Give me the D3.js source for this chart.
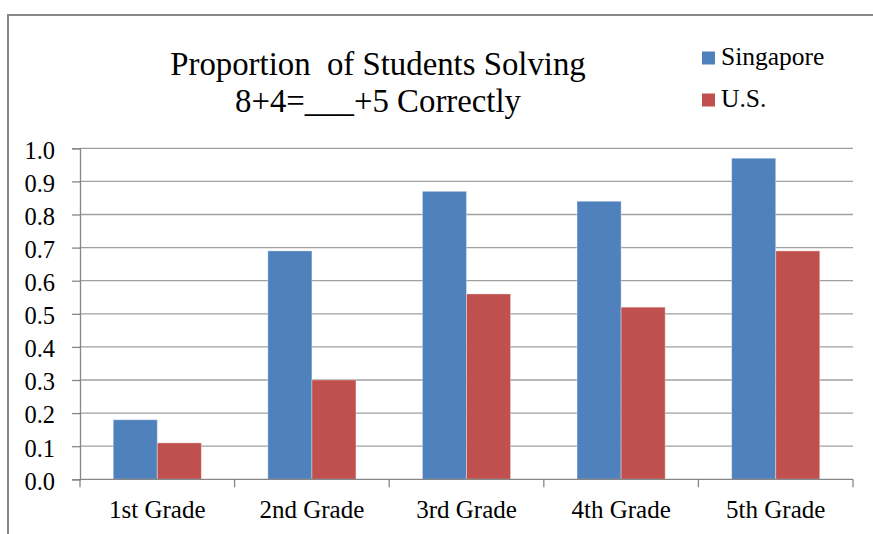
<!DOCTYPE html>
<html>
<head>
<meta charset="utf-8">
<script src="https://cdn.jsdelivr.net/npm/d3@7"></script>
<style>
  html, body { margin: 0; padding: 0; background: #fff; }
  svg { display: block; }
  text { font-family: "Liberation Serif", "Times New Roman", serif; fill: #000; white-space: pre; }
</style>
</head>
<body>
<svg id="chart" width="873" height="534"></svg>
<script>
// Grades on the horizontal axis
const categories = ["1st Grade", "2nd Grade", "3rd Grade", "4th Grade", "5th Grade"];
// Series names, as shown in the legend
const seriesNames = ["Singapore", "U.S."];
// Proportion of students answering correctly, per grade
const singapore = [0.18, 0.69, 0.87, 0.84, 0.97];
const us = [0.11, 0.30, 0.56, 0.52, 0.69];
// Value-axis ticks
const yTicks = [0, 0.1, 0.2, 0.3, 0.4, 0.5, 0.6, 0.7, 0.8, 0.9, 1.0];
// Title lines
const titleLines = ["Proportion  of Students Solving", "8+4=___+5 Correctly"];

const colors = { "Singapore": "#4F81BD", "U.S.": "#C0504D" };
const seriesValues = { "Singapore": singapore, "U.S.": us };

const svg = d3.select("#chart");

// Chart frame (extends past the visible window on the right and bottom)
svg.append("path")
  .attr("d", "M8,540 L8,15 L880,15")
  .attr("fill", "none")
  .attr("stroke", "#878787")
  .attr("stroke-width", 2);

const plot = { left: 80, right: 853, top: 148.3, bottom: 479.3 };

const y = d3.scaleLinear().domain([0, 1]).range([plot.bottom, plot.top]);
const x0 = d3.scaleBand().domain(categories).range([plot.left, plot.right]).padding(0);
const groupW = x0.bandwidth() * 0.57;
const x1 = d3.scaleBand().domain(seriesNames).range([0, groupW]).padding(0);

// Horizontal gridlines
svg.append("g")
  .selectAll("line")
  .data(yTicks.filter(d => d > 0))
  .join("line")
  .attr("x1", plot.left).attr("x2", plot.right)
  .attr("y1", d => y(d)).attr("y2", d => y(d))
  .attr("stroke", "#a0a0a0")
  .attr("stroke-width", 1.3);

// Bars
const rows = categories.map((c, i) => ({ c, i }));
const groups = svg.append("g")
  .selectAll("g")
  .data(rows)
  .join("g")
  .attr("transform", d => `translate(${x0(d.c) + (x0.bandwidth() - groupW) / 2},0)`);

groups.selectAll("rect")
  .data(d => seriesNames.map(s => ({ s, v: seriesValues[s][d.i] })))
  .join("rect")
  .attr("x", d => x1(d.s))
  .attr("width", x1.bandwidth())
  .attr("y", d => y(d.v))
  .attr("height", d => y(0) - y(d.v))
  .attr("fill", d => colors[d.s])
  .attr("stroke", "rgba(255,255,255,0.35)")
  .attr("stroke-width", 1);

// Value axis
const yAxis = d3.axisLeft(y)
  .tickValues(yTicks)
  .tickFormat(d3.format(".1f"))
  .tickSize(8)
  .tickPadding(17);
const gy = svg.append("g").attr("transform", `translate(${plot.left},0)`).call(yAxis);
gy.select(".domain").attr("stroke", "#868686").attr("stroke-width", 1.3);
gy.selectAll(".tick line").attr("stroke", "#868686").attr("stroke-width", 1.3);
gy.selectAll(".tick text")
  .style("font-size", "24.5px")
  .attr("dy", "0.4em")
  .attr("fill", "#000");

// Category axis
const xAxis = d3.axisBottom(x0).tickSize(0).tickPadding(0);
const gx = svg.append("g").attr("transform", `translate(0,${plot.bottom})`).call(xAxis);
gx.select(".domain").remove();
gx.append("line")
  .attr("x1", plot.left).attr("x2", plot.right)
  .attr("stroke", "#868686").attr("stroke-width", 1.3);
gx.selectAll(".boundary")
  .data(categories.concat([null]))
  .join("line")
  .attr("class", "boundary")
  .attr("x1", (d, i) => plot.left + i * x0.step())
  .attr("x2", (d, i) => plot.left + i * x0.step())
  .attr("y1", 0).attr("y2", 8)
  .attr("stroke", "#868686").attr("stroke-width", 1.3);
gx.selectAll(".tick text")
  .style("font-size", "25px")
  .attr("y", 38.5)
  .attr("dy", 0)
  .attr("fill", "#000");

// Title
svg.append("g")
  .selectAll("text")
  .data(titleLines)
  .join("text")
  .attr("x", 378)
  .attr("y", (d, i) => 75 + i * 37)
  .attr("text-anchor", "middle")
  .style("font-size", "32.8px")
  .text(d => d);

// Legend
const legend = svg.append("g")
  .selectAll("g")
  .data(seriesNames)
  .join("g")
  .attr("transform", (d, i) => `translate(702,${51.5 + i * 42})`);
legend.append("rect")
  .attr("width", 13).attr("height", 13)
  .attr("fill", d => colors[d]);
legend.append("text")
  .attr("x", 19).attr("y", 13)
  .style("font-size", "25.5px")
  .text(d => d);
</script>
</body>
</html>
